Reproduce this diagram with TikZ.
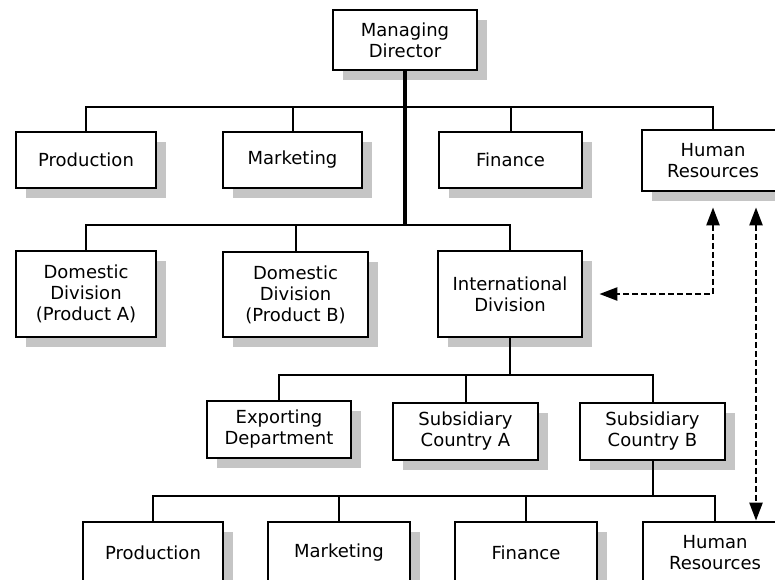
\documentclass[tikz,border=0pt]{standalone}
\usepackage{fontspec}
\setmainfont{DejaVu Sans}
\usetikzlibrary{arrows.meta,shadows}

\begin{document}
\begin{tikzpicture}[x=1pt,y=-1pt,
  unit/.style={draw=black, line width=2.8pt, fill=white, align=center,
    inner sep=0pt, font=\fontsize{18}{21}\selectfont,
    drop shadow={shadow xshift=10pt, shadow yshift=-10pt, fill=black!45}},
  conn/.style={line width=2pt, line cap=rect},
  trunk/.style={line width=3.6pt},
  dlink/.style={line width=2.4pt, dash pattern=on 6pt off 3pt,
    {Triangle[length=18pt,width=13pt]}-{Triangle[length=18pt,width=13pt]}}
]
\useasboundingbox (0,0) rectangle (775,579);
\clip (0,0) rectangle (775,579);

% top
\node[unit, minimum width=144pt, minimum height=60pt] (md) at (405,40) {Managing\\Director};

% functional departments
\node[unit, minimum width=140pt, minimum height=56pt] (p1)  at (86,160)    {Production};
\node[unit, minimum width=139pt, minimum height=56pt] (m1)  at (292.5,160) {Marketing};
\node[unit, minimum width=143pt, minimum height=56pt] (f1)  at (510.5,160) {Finance};
\node[unit, minimum width=142pt, minimum height=61pt] (hr1) at (713,160.5) {Human\\Resources};

% divisions
\node[unit, minimum width=140pt, minimum height=86pt] (da)   at (86,294)    {Domestic\\Division\\(Product A)};
\node[unit, minimum width=145pt, minimum height=85pt] (db)   at (295.5,294.5) {Domestic\\Division\\(Product B)};
\node[unit, minimum width=144pt, minimum height=86pt] (intl) at (510,294)   {International\\Division};

% international units
\node[unit, minimum width=144pt, minimum height=57pt] (exp) at (279,429.5)   {Exporting\\Department};
\node[unit, minimum width=145pt, minimum height=57pt] (sa)  at (465.5,431.5) {Subsidiary\\Country A};
\node[unit, minimum width=145pt, minimum height=57pt] (sb)  at (652.5,431.5) {Subsidiary\\Country B};

% subsidiary departments
\node[unit, minimum width=140pt, minimum height=62pt] (p2)  at (153,553) {Production};
\node[unit, minimum width=142pt, minimum height=62pt] (m2)  at (339,553) {Marketing};
\node[unit, minimum width=142pt, minimum height=62pt] (f2)  at (526,553) {Finance};
\node[unit, minimum width=144pt, minimum height=62pt] (hr2) at (715,553) {Human\\Resources};

% bus levels
\coordinate (bus1) at (0,107);
\coordinate (bus2) at (0,225);
\coordinate (bus3) at (0,375);
\coordinate (bus4) at (0,496);
\coordinate (hrx)  at (756,0);

% managing director to departments and divisions
\draw[trunk] (md.south) -- (md.south |- bus2);
\draw[conn] (p1.north) -- (p1.north |- bus1) -- (hr1.north |- bus1) -- (hr1.north);
\draw[conn] (m1.north) -- (m1.north |- bus1);
\draw[conn] (f1.north) -- (f1.north |- bus1);
\draw[conn] (da.north) -- (da.north |- bus2) -- (intl.north |- bus2) -- (intl.north);
\draw[conn] (db.north) -- (db.north |- bus2);

% international division
\draw[conn] (intl.south) -- (intl.south |- bus3);
\draw[conn] (exp.north) -- (exp.north |- bus3) -- (sb.north |- bus3) -- (sb.north);
\draw[conn] (sa.north) -- (sa.north |- bus3);

% subsidiary B departments
\draw[conn] (sb.south) -- (sb.south |- bus4);
\draw[conn] (p2.north) -- (p2.north |- bus4) -- (hr2.north |- bus4) -- (hr2.north);
\draw[conn] (m2.north) -- (m2.north |- bus4);
\draw[conn] (f2.north) -- (f2.north |- bus4);

% human resources links
\draw[dlink, shorten <=15pt, shorten >=16pt] (hr1.south) |- (intl.east);
\draw[dlink, shorten <=15pt, shorten >=0pt] (hr1.south -| hrx) -- (hr2.north -| hrx);
\end{tikzpicture}
\end{document}
